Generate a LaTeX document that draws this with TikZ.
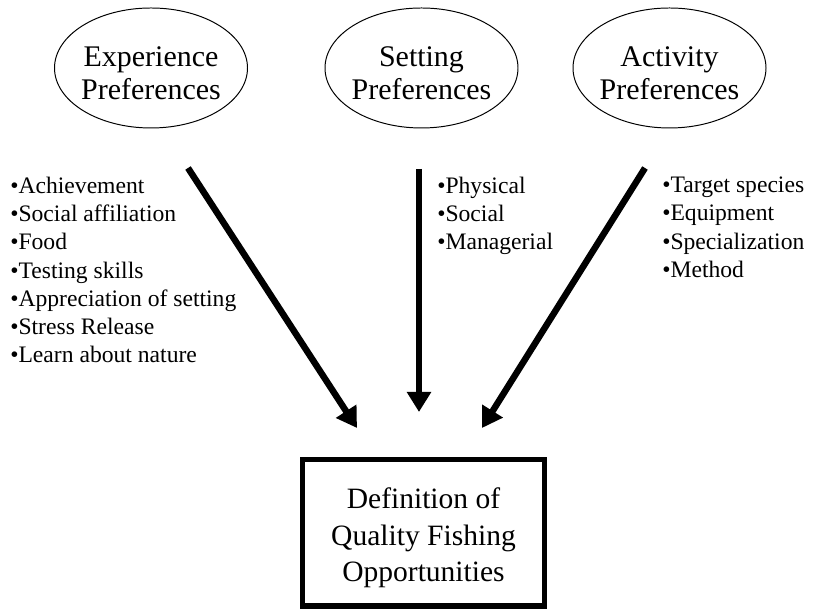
\documentclass[tikz,border=0pt]{standalone}
\usepackage{fontspec}
\setmainfont{Liberation Serif}
\usetikzlibrary{arrows.meta,shapes.geometric}

\begin{document}
\begin{tikzpicture}[
    pref/.style={
        draw, ellipse, line width=0.7pt, inner sep=0pt,
        minimum width=4.825cm, minimum height=3cm
    },
    preflabel/.style={
        align=center, inner sep=0pt,
        font=\fontsize{21.3}{23.5}\selectfont
    },
    itemlist/.style={
        anchor=north west, align=left, inner sep=0pt,
        font=\fontsize{16.8}{20.1}\selectfont
    },
    defbox/.style={
        draw, line width=3.6pt, inner sep=0pt,
        minimum width=6.05cm, minimum height=3.66cm
    },
    deflabel/.style={
        align=center, inner sep=0pt,
        font=\fontsize{21}{26}\selectfont
    },
    flow/.style={
        line width=4.6pt,
        -{Triangle[length=0.5cm, width=0.58cm]}
    }
]
\useasboundingbox (0,0) rectangle (20.375,15.25);

% Preferencias arriba
\node[pref] (exp) at (3.775, 13.55)   {};
\node[pref] (set) at (10.5375, 13.55) {};
\node[pref] (act) at (16.7375, 13.55) {};
\node[preflabel] (exp-txt) at ([yshift=-0.13cm]exp.center) {Experience\\Preferences};
\node[preflabel] (set-txt) at ([yshift=-0.13cm]set.center) {Setting\\Preferences};
\node[preflabel] (act-txt) at ([yshift=-0.13cm]act.center) {Activity\\Preferences};

% Listas de elementos
\node[itemlist] (exp-list) at (0.25, 10.835) {%
    \textbullet Achievement\\
    \textbullet Social affiliation\\
    \textbullet Food\\
    \textbullet Testing skills\\
    \textbullet Appreciation of setting\\
    \textbullet Stress Release\\
    \textbullet Learn about nature};
\node[itemlist] (set-list) at (10.925, 10.835) {%
    \textbullet Physical\\
    \textbullet Social\\
    \textbullet Managerial};
\node[itemlist] (act-list) at (16.55, 10.835) {%
    \textbullet Target species\\
    \textbullet Equipment\\
    \textbullet Specialization\\
    \textbullet Method};

% Caja de definicion
\node[defbox] (def) at (10.5875, 1.93) {};
\node[deflabel] (def-txt) at ([yshift=-0.125cm]def.center)
    {Definition of\\Quality Fishing\\Opportunities};

% Puntos de las flechas
\coordinate (exp-out) at (4.7, 11.05);
\coordinate (set-out) at (10.475, 11.025);
\coordinate (act-out) at (16.125, 11.05);
\coordinate (def-l) at (8.925, 4.55);
\coordinate (def-c) at (10.475, 4.95);
\coordinate (def-r) at (12.05, 4.55);

\draw[flow] (exp-out) -- (def-l);
\draw[flow] (set-out) -- (def-c);
\draw[flow] (act-out) -- (def-r);

\end{tikzpicture}
\end{document}
